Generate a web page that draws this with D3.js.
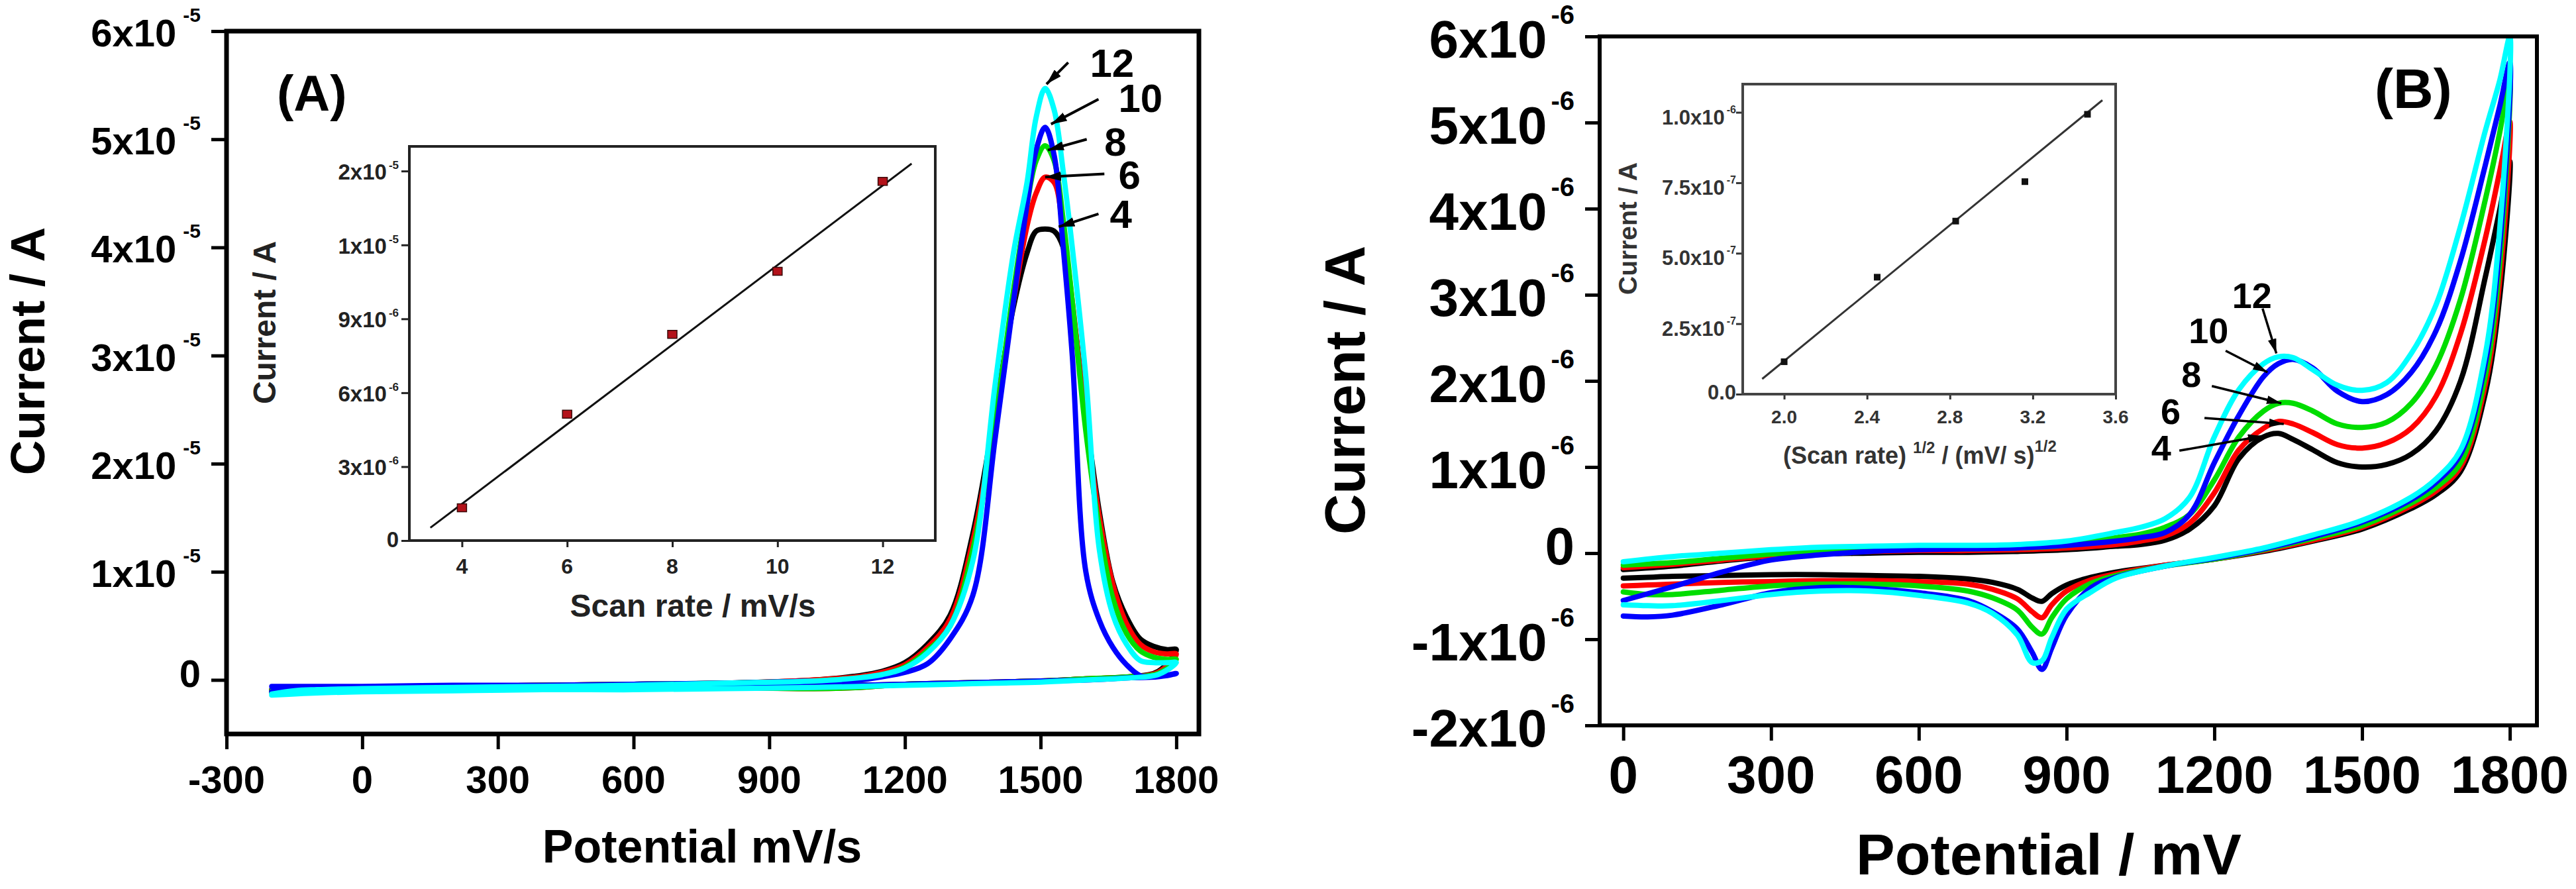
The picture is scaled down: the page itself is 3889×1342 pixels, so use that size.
<!DOCTYPE html>
<html>
<head>
<meta charset="utf-8">
<script src="https://cdnjs.cloudflare.com/ajax/libs/d3/7.8.5/d3.min.js"></script>
<style>
  html, body { margin: 0; padding: 0; background: #fff; }
  svg text { font-family: "Liberation Sans", Arial, sans-serif; font-weight: bold; fill: #000; }
</style>
</head>
<body>
<svg id="chart" width="3889" height="1342"></svg>
<script>
// ---------- data ----------
var scanRates = [4, 6, 8, 10, 12];
var curveColors = ["#000000", "#ff0000", "#00dd00", "#0000ff", "#00ffff"];

// panel A, currents in 1e-5 A
var aFwdPotential = [-200, -150, -100, 0, 200, 400, 600, 800, 1000, 1100, 1150, 1200, 1250, 1300, 1350, 1400,
    1440, 1470, 1490, 1510, 1530, 1550, 1570, 1600, 1630, 1660, 1690, 1720, 1750, 1780, 1800];
var aFwdCurrent = [
    [-0.09, -0.07, -0.07, -0.07, -0.06, -0.05, -0.04, -0.03, 0.0, 0.04, 0.08, 0.16, 0.33, 0.6, 1.35, 2.5, 3.45, 3.95, 4.15, 4.17, 4.15, 4.0, 3.45, 2.45, 1.55, 0.9, 0.58, 0.38, 0.31, 0.28, 0.28],
    [-0.1, -0.08, -0.07, -0.07, -0.06, -0.05, -0.04, -0.03, 0.0, 0.03, 0.07, 0.14, 0.3, 0.56, 1.28, 2.45, 3.5, 4.2, 4.5, 4.65, 4.6, 4.15, 3.5, 2.4, 1.5, 0.88, 0.52, 0.33, 0.26, 0.24, 0.24],
    [-0.1, -0.08, -0.07, -0.07, -0.06, -0.05, -0.04, -0.03, -0.01, 0.02, 0.05, 0.12, 0.27, 0.5, 1.2, 2.4, 3.6, 4.4, 4.8, 4.94, 4.8, 4.25, 3.5, 2.3, 1.4, 0.75, 0.43, 0.27, 0.21, 0.19, 0.19],
    [-0.06, -0.06, -0.06, -0.06, -0.05, -0.05, -0.04, -0.03, -0.01, 0.0, 0.03, 0.07, 0.15, 0.38, 0.78, 2.25, 3.5, 4.4, 4.9, 5.11, 4.85, 4.0, 3.0, 1.0, 0.55, 0.3, 0.14, 0.04, 0.03, 0.04, 0.06],
    [-0.13, -0.1, -0.09, -0.08, -0.07, -0.06, -0.05, -0.03, -0.01, 0.02, 0.05, 0.11, 0.25, 0.5, 1.1, 2.75, 3.95, 4.6, 5.2, 5.47, 5.27, 4.7, 4.0, 2.8, 1.2, 0.6, 0.33, 0.18, 0.16, 0.16, 0.16]
];
var aRevPotential = [1800, 1760, 1700, 1600, 1500, 1400, 1300, 1200, 1100, 1000, 800, 600, 400, 200, 0, -100, -200];
var aRevCurrent = [
    [0.28, 0.08, 0.03, 0.01, -0.01, -0.02, -0.03, -0.04, -0.05, -0.06, -0.07, -0.07, -0.08, -0.08, -0.09, -0.09, -0.1],
    [0.24, 0.07, 0.03, 0.01, -0.01, -0.02, -0.03, -0.04, -0.07, -0.08, -0.07, -0.07, -0.08, -0.08, -0.09, -0.1, -0.11],
    [0.19, 0.06, 0.03, 0.01, -0.01, -0.02, -0.03, -0.04, -0.07, -0.08, -0.07, -0.08, -0.08, -0.09, -0.09, -0.1, -0.11],
    [0.06, 0.03, 0.02, 0.0, -0.01, -0.02, -0.03, -0.04, -0.05, -0.06, -0.07, -0.08, -0.08, -0.09, -0.1, -0.1, -0.11],
    [0.16, 0.05, 0.02, 0.0, -0.02, -0.03, -0.04, -0.05, -0.06, -0.07, -0.08, -0.09, -0.09, -0.1, -0.11, -0.12, -0.14]
];
var aXTicks = [-300, 0, 300, 600, 900, 1200, 1500, 1800];
var aYTicks = [0, 1, 2, 3, 4, 5, 6];
var aYTickBase = ["0", "1x10", "2x10", "3x10", "4x10", "5x10", "6x10"];
var aYTickExp = ["", "-5", "-5", "-5", "-5", "-5", "-5"];

// panel A scan-rate labels, in scanRates order: text anchor, arrow tail, arrow head (potential, current)
var aNoteText = [[1653, 4.18], [1672, 4.54], [1641, 4.85], [1672, 5.25], [1609, 5.58]];
var aNoteFrom = [[1628, 4.31], [1641, 4.68], [1602, 5.0], [1628, 5.37], [1561, 5.71]];
var aNoteTo = [[1540, 4.19], [1510, 4.65], [1516, 4.9], [1523, 5.14], [1513, 5.51]];

// inset A, currents in 1e-5 A
var aInsetRate = [4, 6, 8, 10, 12];
var aInsetPeak = [0.133, 0.513, 0.837, 1.093, 1.458];
var aInsetFitX = [3.4, 12.55];
var aInsetFitY = [0.052, 1.53];
var aInsetXTicks = [4, 6, 8, 10, 12];
var aInsetYTicks = [0, 0.3, 0.6, 0.9, 1.2, 1.5];
var aInsetYTickBase = ["0", "3x10", "6x10", "9x10", "1x10", "2x10"];
var aInsetYTickExp = ["", "-6", "-6", "-6", "-5", "-5"];

// panel B, currents in 1e-6 A
var bFwdPotential = [0, 100, 200, 300, 400, 500, 600, 700, 800, 900, 1000, 1050, 1100, 1150, 1200, 1250, 1300,
    1330, 1360, 1400, 1450, 1500, 1550, 1600, 1650, 1700, 1750, 1780, 1800];
var bFwdCurrent = [
    [-0.19, -0.15, -0.09, -0.04, -0.01, 0.0, 0.01, 0.01, 0.02, 0.04, 0.08, 0.1, 0.15, 0.28, 0.55, 1.1, 1.35, 1.39, 1.32, 1.2, 1.05, 1.0, 1.03, 1.15, 1.42, 2.0, 3.2, 4.0, 4.55],
    [-0.17, -0.13, -0.08, -0.03, 0.0, 0.02, 0.03, 0.03, 0.04, 0.06, 0.1, 0.14, 0.2, 0.35, 0.7, 1.2, 1.45, 1.53, 1.5, 1.4, 1.26, 1.22, 1.28, 1.45, 1.82, 2.55, 3.65, 4.45, 5.01],
    [-0.14, -0.11, -0.06, -0.01, 0.02, 0.04, 0.05, 0.05, 0.06, 0.09, 0.18, 0.22, 0.3, 0.45, 0.85, 1.35, 1.65, 1.74, 1.74, 1.65, 1.5, 1.46, 1.52, 1.74, 2.18, 2.95, 4.1, 4.9, 5.54],
    [-0.55, -0.39, -0.22, -0.08, -0.02, 0.02, 0.04, 0.05, 0.06, 0.09, 0.14, 0.18, 0.24, 0.45, 1.05, 1.6, 2.05, 2.2, 2.25, 2.15, 1.88, 1.76, 1.84, 2.1, 2.58, 3.4, 4.5, 5.2, 5.7],
    [-0.1, -0.04, 0.0, 0.04, 0.07, 0.08, 0.09, 0.09, 0.1, 0.14, 0.24, 0.3, 0.4, 0.65, 1.35, 1.9, 2.2, 2.28, 2.27, 2.13, 1.95, 1.89, 1.98, 2.32, 2.88, 3.8, 4.9, 5.5, 6.0]
];
var bRevPotential = [1800, 1780, 1750, 1700, 1650, 1600, 1500, 1400, 1300, 1200, 1100, 1000, 950, 900, 870,
    850, 830, 800, 750, 700, 600, 500, 400, 300, 200, 100, 50, 0];
var bRevCurrent = [
    [4.55, 3.0, 1.85, 0.95, 0.68, 0.52, 0.28, 0.14, 0.02, -0.07, -0.14, -0.22, -0.28, -0.37, -0.47, -0.56, -0.52, -0.42, -0.34, -0.3, -0.27, -0.26, -0.25, -0.25, -0.26, -0.27, -0.28, -0.29],
    [5.01, 3.2, 1.95, 1.0, 0.72, 0.55, 0.3, 0.15, 0.03, -0.07, -0.14, -0.24, -0.31, -0.44, -0.6, -0.75, -0.68, -0.53, -0.42, -0.36, -0.33, -0.32, -0.32, -0.33, -0.34, -0.36, -0.37, -0.38],
    [5.54, 3.4, 2.05, 1.05, 0.76, 0.58, 0.32, 0.17, 0.04, -0.07, -0.15, -0.26, -0.35, -0.53, -0.75, -0.94, -0.86, -0.66, -0.52, -0.44, -0.38, -0.36, -0.36, -0.38, -0.43, -0.48, -0.48, -0.45],
    [5.7, 3.6, 2.2, 1.15, 0.82, 0.62, 0.36, 0.19, 0.05, -0.06, -0.15, -0.28, -0.4, -0.72, -1.1, -1.35, -1.15, -0.88, -0.68, -0.55, -0.46, -0.41, -0.4, -0.46, -0.6, -0.72, -0.74, -0.73],
    [6.0, 3.8, 2.3, 1.2, 0.86, 0.65, 0.38, 0.21, 0.06, -0.05, -0.15, -0.29, -0.45, -0.65, -0.98, -1.25, -1.27, -0.95, -0.7, -0.58, -0.49, -0.44, -0.44, -0.48, -0.55, -0.61, -0.61, -0.6]
];
var bXTicks = [0, 300, 600, 900, 1200, 1500, 1800];
var bYTicks = [-2, -1, 0, 1, 2, 3, 4, 5, 6];
var bYTickBase = ["-2x10", "-1x10", "0", "1x10", "2x10", "3x10", "4x10", "5x10", "6x10"];
var bYTickExp = ["-6", "-6", "", "-6", "-6", "-6", "-6", "-6", "-6"];

// panel B scan-rate labels, in scanRates order
var bNoteText = [[1072, 1.08], [1091, 1.5], [1133, 1.93], [1148, 2.44], [1236, 2.85]];
var bNoteFrom = [[1129, 1.19], [1180, 1.57], [1195, 1.94], [1223, 2.35], [1298, 2.84]];
var bNoteTo = [[1298, 1.36], [1341, 1.5], [1336, 1.74], [1308, 2.1], [1326, 2.32]];

// inset B, currents in 1e-6 A
var bInsetRoot = [2.0, 2.449, 2.828, 3.162, 3.464];
var bInsetPeak = [0.115, 0.415, 0.614, 0.754, 0.993];
var bInsetFitX = [1.894, 3.536];
var bInsetFitY = [0.054, 1.043];
var bInsetXTicks = [2.0, 2.4, 2.8, 3.2, 3.6];
var bInsetYTicks = [0, 0.25, 0.5, 0.75, 1.0];
var bInsetYTickBase = ["0.0", "2.5x10", "5.0x10", "7.5x10", "1.0x10"];
var bInsetYTickExp = ["", "-7", "-7", "-7", "-6"];

// ---------- drawing ----------
var svg = d3.select("#chart");
var defs = svg.append("defs");

function arrowMarker(id, len, wid) {
    defs.append("marker")
        .attr("id", id)
        .attr("markerUnits", "userSpaceOnUse")
        .attr("markerWidth", len)
        .attr("markerHeight", wid)
        .attr("refX", len)
        .attr("refY", wid / 2)
        .attr("orient", "auto")
        .append("path")
        .attr("d", "M0,0L" + len + "," + (wid / 2) + "L0," + wid + "Z")
        .attr("fill", "#000");
}
arrowMarker("headA", 24, 14);
arrowMarker("headB", 22, 13);

function frameRect(g, f, stroke, width) {
    g.append("rect")
        .attr("x", f.left).attr("y", f.top)
        .attr("width", f.right - f.left).attr("height", f.bottom - f.top)
        .attr("fill", "none").attr("stroke", stroke).attr("stroke-width", width);
}

function ticks(g, axis, transform, stroke, width) {
    var a = g.append("g").attr("transform", transform).call(axis);
    a.select(".domain").remove();
    a.selectAll(".tick text").remove();
    a.selectAll(".tick line").attr("stroke", stroke).attr("stroke-width", width);
    return a;
}

function xLabels(g, scale, values, fmt, y, size, fill) {
    g.selectAll(null).data(values).enter().append("text")
        .attr("x", function(d) { return scale(d); })
        .attr("y", y)
        .attr("text-anchor", "middle")
        .attr("font-size", size)
        .style("fill", fill)
        .text(fmt);
}

function yLabels(g, scale, values, bases, exps, o) {
    var t = g.selectAll(null).data(values).enter().append("text")
        .attr("x", o.x)
        .attr("y", function(d, i) { return scale(d) + (exps[i] ? o.dyExp : o.dyPlain); })
        .attr("text-anchor", "end")
        .attr("font-size", o.size)
        .style("fill", o.fill);
    t.append("tspan").text(function(d, i) { return bases[i]; });
    t.filter(function(d, i) { return exps[i] !== ""; })
        .append("tspan")
        .attr("font-size", o.supSize)
        .attr("dx", o.gap)
        .attr("dy", o.supDy)
        .text(function(d) { return exps[values.indexOf(d)]; });
}

function curves(g, x, y, fwdP, fwdI, revP, revI, width, clipId) {
    var line = d3.line()
        .x(function(d) { return x(d[0]); })
        .y(function(d) { return y(d[1]); })
        .curve(d3.curveCatmullRom.alpha(0.5));
    var rows = fwdI.map(function(row, i) {
        var pts = fwdP.map(function(p, j) { return [p, row[j]]; });
        return pts.concat(revP.slice(1).map(function(p, j) { return [p, revI[i][j + 1]]; }));
    });
    g.append("g").attr("clip-path", "url(#" + clipId + ")")
        .selectAll("path").data(rows).enter().append("path")
        .attr("d", line)
        .attr("fill", "none")
        .attr("stroke", function(d, i) { return curveColors[i]; })
        .attr("stroke-width", width)
        .attr("stroke-linejoin", "round")
        .attr("stroke-linecap", "round");
}

function notes(g, x, y, text, from, to, size, head, lineW) {
    g.selectAll(null).data(scanRates).enter().append("line")
        .attr("x1", function(d, i) { return x(from[i][0]); })
        .attr("y1", function(d, i) { return y(from[i][1]); })
        .attr("x2", function(d, i) { return x(to[i][0]); })
        .attr("y2", function(d, i) { return y(to[i][1]); })
        .attr("stroke", "#000")
        .attr("stroke-width", lineW)
        .attr("marker-end", "url(#" + head + ")");
    g.selectAll(null).data(scanRates).enter().append("text")
        .attr("x", function(d, i) { return x(text[i][0]); })
        .attr("y", function(d, i) { return y(text[i][1]); })
        .attr("font-size", size)
        .text(function(d) { return d; });
}

function clip(id, f) {
    defs.append("clipPath").attr("id", id).append("rect")
        .attr("x", f.left).attr("y", f.top)
        .attr("width", f.right - f.left).attr("height", f.bottom - f.top);
}

// ---------- panel A ----------
var gA = svg.append("g");
var frameA = {left: 342, right: 1810, top: 47, bottom: 1108};
var xA = d3.scaleLinear().domain([-300, 1850]).range([frameA.left, frameA.right]);
var yA = d3.scaleLinear().domain([-0.5, 6]).range([frameA.bottom, frameA.top]);
clip("clipA", frameA);

ticks(gA, d3.axisBottom(xA).tickValues(aXTicks).tickSizeInner(23).tickSizeOuter(0),
    "translate(0," + frameA.bottom + ")", "#000", 5);
ticks(gA, d3.axisLeft(yA).tickValues(aYTicks).tickSizeInner(23).tickSizeOuter(0),
    "translate(" + frameA.left + ",0)", "#000", 5);
xLabels(gA, xA, aXTicks, function(d) { return d; }, 1197, 58, "#000");
yLabels(gA, yA, aYTicks, aYTickBase, aYTickExp,
    {x: 303, size: 58, supSize: 30, gap: 10, supDy: -37, dyExp: 23, dyPlain: 11, fill: "#000"});

curves(gA, xA, yA, aFwdPotential, aFwdCurrent, aRevPotential, aRevCurrent, 8, "clipA");
frameRect(gA, frameA, "#000", 7);
notes(gA, xA, yA, aNoteText, aNoteFrom, aNoteTo, 60, "headA", 4);

gA.append("text").attr("x", 418).attr("y", 167).attr("font-size", 76).text("(A)");
gA.append("text")
    .attr("transform", "translate(67,530) rotate(-90)")
    .attr("text-anchor", "middle").attr("font-size", 73)
    .text("Current / A");
gA.append("text").attr("x", 1060).attr("y", 1302)
    .attr("text-anchor", "middle").attr("font-size", 70)
    .text("Potential mV/s");

// inset A
var gAi = svg.append("g");
var frameAi = {left: 618, right: 1412, top: 221, bottom: 816};
var xAi = d3.scaleLinear().domain([3, 13]).range([frameAi.left, frameAi.right]);
var yAi = d3.scaleLinear().domain([0, 1.6]).range([frameAi.bottom, frameAi.top]);
ticks(gAi, d3.axisBottom(xAi).tickValues(aInsetXTicks).tickSizeInner(10).tickSizeOuter(0),
    "translate(0," + frameAi.bottom + ")", "#222", 3);
ticks(gAi, d3.axisLeft(yAi).tickValues(aInsetYTicks).tickSizeInner(12).tickSizeOuter(0),
    "translate(" + frameAi.left + ",0)", "#222", 3);
xLabels(gAi, xAi, aInsetXTicks, function(d) { return d; }, 866, 32, "#222");
yLabels(gAi, yAi, aInsetYTicks, aInsetYTickBase, aInsetYTickExp,
    {x: 602, size: 33, supSize: 17, gap: 3, supDy: -16, dyExp: 13, dyPlain: 10, fill: "#222"});
gAi.append("line")
    .attr("x1", xAi(aInsetFitX[0])).attr("y1", yAi(aInsetFitY[0]))
    .attr("x2", xAi(aInsetFitX[1])).attr("y2", yAi(aInsetFitY[1]))
    .attr("stroke", "#111").attr("stroke-width", 3);
gAi.selectAll(null).data(aInsetRate).enter().append("rect")
    .attr("x", function(d) { return xAi(d) - 7; })
    .attr("y", function(d, i) { return yAi(aInsetPeak[i]) - 6; })
    .attr("width", 14).attr("height", 12)
    .attr("fill", "#b3121a").attr("stroke", "#3a0a0a").attr("stroke-width", 1.5);
frameRect(gAi, frameAi, "#222", 4);
gAi.append("text")
    .attr("transform", "translate(416,487) rotate(-90)")
    .attr("text-anchor", "middle").attr("font-size", 48).style("fill", "#222")
    .text("Current / A");
gAi.append("text").attr("x", 1046).attr("y", 931)
    .attr("text-anchor", "middle").attr("font-size", 48).style("fill", "#222")
    .text("Scan rate / mV/s");

// ---------- panel B ----------
var gB = svg.append("g");
var frameB = {left: 2415, right: 3830, top: 55, bottom: 1095};
var xB = d3.scaleLinear().domain([-48, 1855]).range([frameB.left, frameB.right]);
var yB = d3.scaleLinear().domain([-2, 6]).range([frameB.bottom, frameB.top]);
clip("clipB", frameB);

ticks(gB, d3.axisBottom(xB).tickValues(bXTicks).tickSizeInner(23).tickSizeOuter(0),
    "translate(0," + frameB.bottom + ")", "#000", 5);
ticks(gB, d3.axisLeft(yB).tickValues(bYTicks).tickSizeInner(22).tickSizeOuter(0),
    "translate(" + frameB.left + ",0)", "#000", 5);
xLabels(gB, xB, bXTicks, function(d) { return d; }, 1197, 80, "#000");
yLabels(gB, yB, bYTicks, bYTickBase, bYTickExp,
    {x: 2377, size: 80, supSize: 40, gap: 6, supDy: -51, dyExp: 32, dyPlain: 17, fill: "#000"});

curves(gB, xB, yB, bFwdPotential, bFwdCurrent, bRevPotential, bRevCurrent, 8, "clipB");
frameRect(gB, frameB, "#000", 6);
notes(gB, xB, yB, bNoteText, bNoteFrom, bNoteTo, 54, "headB", 3.5);

gB.append("text").attr("x", 3585).attr("y", 163).attr("font-size", 84).text("(B)");
gB.append("text")
    .attr("transform", "translate(2060,589) rotate(-90)")
    .attr("text-anchor", "middle").attr("font-size", 85)
    .text("Current / A");
gB.append("text").attr("x", 3093).attr("y", 1320)
    .attr("text-anchor", "middle").attr("font-size", 88)
    .text("Potential / mV");

// inset B
var gBi = svg.append("g");
var frameBi = {left: 2631, right: 3194, top: 127, bottom: 595};
var xBi = d3.scaleLinear().domain([1.8, 3.6]).range([frameBi.left, frameBi.right]);
var yBi = d3.scaleLinear().domain([0, 1.1]).range([frameBi.bottom, frameBi.top]);
ticks(gBi, d3.axisBottom(xBi).tickValues(bInsetXTicks).tickSizeInner(8).tickSizeOuter(0),
    "translate(0," + frameBi.bottom + ")", "#333", 3);
ticks(gBi, d3.axisLeft(yBi).tickValues(bInsetYTicks).tickSizeInner(10).tickSizeOuter(0),
    "translate(" + frameBi.left + ",0)", "#333", 3);
xLabels(gBi, xBi, bInsetXTicks, function(d) { return d.toFixed(1); }, 639, 28, "#333");
yLabels(gBi, yBi, bInsetYTicks, bInsetYTickBase, bInsetYTickExp,
    {x: 2621, size: 31, supSize: 16, gap: 3, supDy: -17, dyExp: 18, dyPlain: 8, fill: "#333"});
gBi.append("line")
    .attr("x1", xBi(bInsetFitX[0])).attr("y1", yBi(bInsetFitY[0]))
    .attr("x2", xBi(bInsetFitX[1])).attr("y2", yBi(bInsetFitY[1]))
    .attr("stroke", "#333").attr("stroke-width", 3);
gBi.selectAll(null).data(bInsetRoot).enter().append("rect")
    .attr("x", function(d) { return xBi(d) - 5; })
    .attr("y", function(d, i) { return yBi(bInsetPeak[i]) - 5; })
    .attr("width", 10).attr("height", 10)
    .attr("fill", "#111");
frameRect(gBi, frameBi, "#444", 4);
gBi.append("text")
    .attr("transform", "translate(2471,345) rotate(-90)")
    .attr("text-anchor", "middle").attr("font-size", 39).style("fill", "#333")
    .text("Current / A");
var capB = gBi.append("text").attr("x", 2692).attr("y", 700)
    .attr("font-size", 36).style("fill", "#333");
capB.append("tspan").text("(Scan rate) ");
capB.append("tspan").attr("font-size", 24).attr("dy", -16).text("1/2");
capB.append("tspan").attr("dy", 16).text(" / (mV/ s)");
capB.append("tspan").attr("font-size", 24).attr("dy", -18).text("1/2");
</script>
</body>
</html>
